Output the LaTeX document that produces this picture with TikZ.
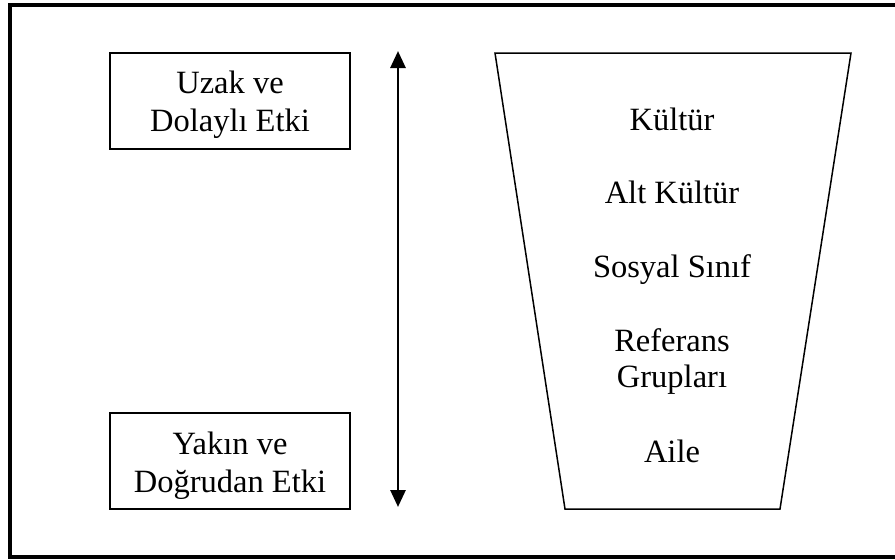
\documentclass[tikz,border=0pt]{standalone}
\usepackage{fontspec}
\setmainfont{Liberation Serif}
\usetikzlibrary{arrows.meta}
\begin{document}
\begin{tikzpicture}[x=1pt,y=-1pt,
  txt/.style={anchor=base,inner sep=0pt,font=\fontsize{32.5}{38}\selectfont},
  effbox/.style={draw,line width=1.5pt,minimum width=240pt,minimum height=96pt,inner sep=0pt},
  frame/.style={line width=3.5pt},
  axis/.style={line width=2.8pt,{Triangle[length=17pt,width=15pt]}-{Triangle[length=17pt,width=15pt]}}]
\useasboundingbox (0,0) rectangle (895,560);
\clip (0,0) rectangle (895,560);
\draw[frame] (10,5) rectangle (905,557);
% left boxes
\node[effbox] (far) at (230,101) {};
\node[txt] (far1) at (230,93) {Uzak ve};
\node[txt] (far2) at (230,131) {Dolaylı Etki};
\node[effbox] (near) at (230,461) {};
\node[txt] (near1) at (230,454) {Yakın ve};
\node[txt] (near2) at (230,492) {Doğrudan Etki};
% arrow
\coordinate (atop) at (398,51);
\coordinate (abot) at (398,507);
\draw[axis] (atop) -- (abot);
% trapezoid
\coordinate (tl) at (495,53);
\coordinate (tr) at (851,53);
\coordinate (br) at (780,509);
\coordinate (bl) at (565,509);
\draw[line width=1.5pt,line join=miter] (tl) -- (tr) -- (br) -- (bl) -- cycle;
\node[txt] (k1) at (672,130) {Kültür};
\node[txt] (k2) at (672,203) {Alt Kültür};
\node[txt] (k3) at (672,277) {Sosyal Sınıf};
\node[txt] (k4a) at (672,351) {Referans};
\node[txt] (k4b) at (672,387) {Grupları};
\node[txt] (k5) at (672,462) {Aile};
\end{tikzpicture}
\end{document}
